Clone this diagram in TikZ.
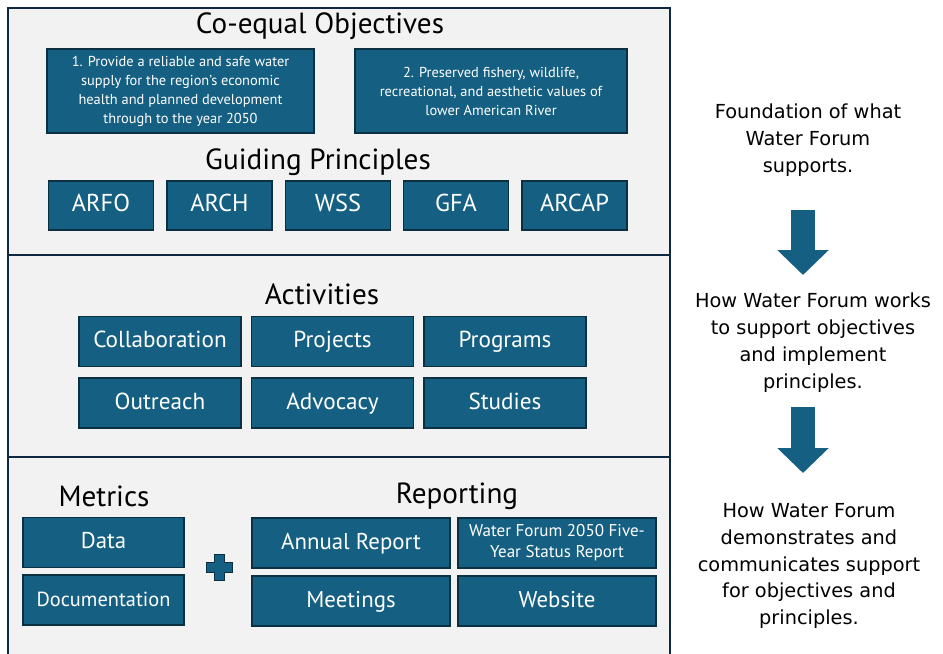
\documentclass[tikz,border=0pt]{standalone}
\usepackage{fontspec}
\setmainfont{PT Sans}
\newfontfamily\sidefont{DejaVu Sans}
\usetikzlibrary{arrows.meta}

\definecolor{panelgray}{HTML}{F2F2F2}
\definecolor{navy}{HTML}{0E2841}
\definecolor{boxblue}{HTML}{156082}
\definecolor{boxedge}{HTML}{0B3041}

\tikzstyle{panel} = [draw=navy, fill=panelgray, line width=1.2pt]
\tikzstyle{box} = [draw=boxedge, fill=boxblue, text=white, line width=0.8pt, inner sep=0pt, align=center]
\tikzstyle{oneline} = [text height=0.7em, text depth=0pt]
\tikzstyle{head} = [font=\fontsize{16.6}{19}\selectfont]
\tikzstyle{obox} = [box, minimum height=1.68cm, font=\fontsize{8.2}{10.8}\selectfont]
\tikzstyle{pbox} = [box, oneline, minimum width=2.1cm, minimum height=0.98cm, font=\fontsize{13.9}{15}\selectfont]
\tikzstyle{abox} = [box, oneline, minimum width=3.24cm, minimum height=1cm, font=\fontsize{13.2}{15}\selectfont]
\tikzstyle{mbox} = [box, oneline, minimum width=3.22cm, minimum height=1cm]
\tikzstyle{rbox} = [box, minimum width=3.96cm, minimum height=1cm]
\tikzstyle{side} = [align=center, font=\sidefont\fontsize{11}{15.3}\selectfont]
\tikzstyle{bigarrow} = [boxblue, line width=0.48cm, -{Triangle[length=0.5cm, width=1cm]}]

\begin{document}
\begin{tikzpicture}[x=0.02cm, y=-0.02cm]
  \useasboundingbox (0,0) rectangle (943,653);

  % panels
  \draw [panel] (8,8) rectangle (670,255);
  \draw [panel, line width=0.6pt] (8,255) rectangle (670,457);
  \draw [panel] (8,457) rectangle (670,670);
  \draw [navy, line width=1.2pt] (670,8) -- (670,653);

  % objectives and principles
  \node (objtitle) at (320,26) [head] {Co-equal Objectives};
  \node (obj1) at (180.5,91) [obox, minimum width=5.34cm] {1. Provide a reliable and safe water\\supply for the region's economic\\health and planned development\\through to the year 2050};
  \node (obj2) at (491,91) [obox, minimum width=5.44cm] {2. Preserved fishery, wildlife,\\recreational, and aesthetic values of\\lower American River};
  \node (guidtitle) at (318,162) [head] {Guiding Principles};
  \node (arfo) at (101,205.5) [pbox] {ARFO};
  \node (arch) at (219.5,205.5) [pbox] {ARCH};
  \node (wss) at (338,205.5) [pbox] {WSS};
  \node (gfa) at (456,205.5) [pbox] {GFA};
  \node (arcap) at (574.5,205.5) [pbox] {ARCAP};

  % activities
  \node (acttitle) at (322,294) [head] {Activities};
  \node (collab) at (160,341.5) [abox] {Collaboration};
  \node (proj) at (332.5,341.5) [abox] {Projects};
  \node (prog) at (505,341.5) [abox] {Programs};
  \node (outr) at (160,403) [abox] {Outreach};
  \node (advo) at (332.5,403) [abox] {Advocacy};
  \node (stud) at (505,403) [abox] {Studies};

  % metrics and reporting
  \node (mettitle) at (104,496) [head] {Metrics};
  \node (reptitle) at (457,496) [head] {Reporting};
  \node (data) at (103.5,542.5) [mbox, font=\fontsize{13}{15}\selectfont] {Data};
  \node (docu) at (103.5,600) [mbox, font=\fontsize{11.6}{13}\selectfont] {Documentation};
  \node (annual) at (351,543) [rbox, oneline, font=\fontsize{13}{15}\selectfont] {Annual Report};
  \node (wf2050) at (557,543) [rbox, font=\fontsize{9.7}{12}\selectfont] {Water Forum 2050 Five-\\Year Status Report};
  \node (meet) at (351,601) [rbox, oneline, font=\fontsize{13}{15}\selectfont] {Meetings};
  \node (web) at (557,601) [rbox, oneline, font=\fontsize{13}{15}\selectfont] {Website};
  \draw [boxedge, fill=boxblue, line width=0.6pt]
    (214.5,554.5) -- (224.5,554.5) -- (224.5,562.5) -- (232.5,562.5) -- (232.5,572.5)
    -- (224.5,572.5) -- (224.5,580.5) -- (214.5,580.5) -- (214.5,572.5) -- (206.5,572.5)
    -- (206.5,562.5) -- (214.5,562.5) -- cycle;

  % right column
  \node (found) at (808,140) [side] {Foundation of what\\Water Forum\\supports.};
  \node (works) at (813,342.5) [side] {How Water Forum works\\to support objectives\\and implement\\principles.};
  \node (demon) at (809,566) [side] {How Water Forum\\demonstrates and\\communicates support\\for objectives and\\principles.};
  \coordinate (a1s) at (803,210);
  \coordinate (a1e) at (803,275);
  \coordinate (a2s) at (803,407);
  \coordinate (a2e) at (803,473);
  \draw [bigarrow] (a1s) -- (a1e);
  \draw [bigarrow] (a2s) -- (a2e);
\end{tikzpicture}
\end{document}
